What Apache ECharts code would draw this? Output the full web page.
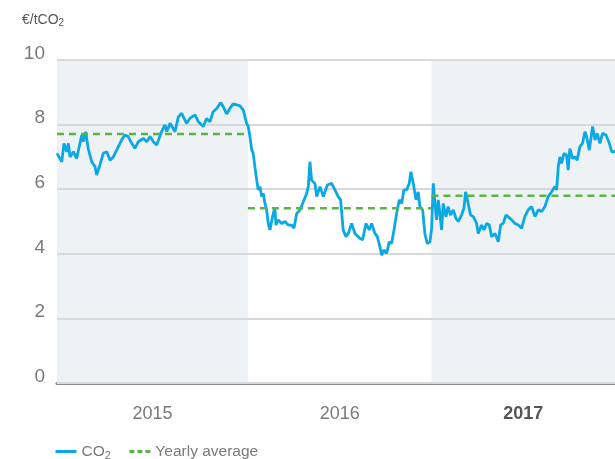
<!DOCTYPE html>
<html>
<head>
<meta charset="utf-8">
<script src="https://cdn.jsdelivr.net/npm/echarts@6/dist/echarts.min.js"></script>
<style>
  html, body { margin: 0; padding: 0; background: #fff; }
  #chart { width: 615px; height: 459px; }
</style>
</head>
<body>
<div id="chart"></div>
<script>
// CO2 price, decimal year / EUR per tonne
var co2Time = [
  2014.960, 2014.986, 2014.998, 2015.013, 2015.022, 2015.031, 2015.049, 2015.067, 2015.095, 2015.103,
  2015.116, 2015.130, 2015.149, 2015.167, 2015.176, 2015.194, 2015.212, 2015.231, 2015.249, 2015.267,
  2015.285, 2015.312, 2015.330, 2015.348, 2015.367, 2015.385, 2015.403, 2015.430, 2015.449, 2015.467,
  2015.485, 2015.503, 2015.530, 2015.548, 2015.558, 2015.576, 2015.603, 2015.621, 2015.639, 2015.666,
  2015.684, 2015.712, 2015.730, 2015.757, 2015.775, 2015.793, 2015.811, 2015.830, 2015.852, 2015.866,
  2015.884, 2015.902, 2015.920, 2015.939, 2015.957, 2015.975, 2015.984, 2015.993, 2016.002, 2016.011,
  2016.021, 2016.029, 2016.038, 2016.048, 2016.056, 2016.066, 2016.075, 2016.084, 2016.093, 2016.102,
  2016.111, 2016.120, 2016.129, 2016.138, 2016.147, 2016.153, 2016.165, 2016.184, 2016.202, 2016.220,
  2016.238, 2016.251, 2016.266, 2016.284, 2016.302, 2016.320, 2016.329, 2016.338, 2016.347, 2016.365,
  2016.375, 2016.393, 2016.411, 2016.433, 2016.456, 2016.474, 2016.492, 2016.505, 2016.519, 2016.534,
  2016.547, 2016.565, 2016.583, 2016.610, 2016.625, 2016.643, 2016.661, 2016.674, 2016.692, 2016.705,
  2016.719, 2016.729, 2016.741, 2016.756, 2016.770, 2016.783, 2016.796, 2016.810, 2016.825, 2016.838,
  2016.850, 2016.865, 2016.879, 2016.888, 2016.901, 2016.916, 2016.928, 2016.937, 2016.952, 2016.964,
  2016.977, 2016.992, 2017.001, 2017.010, 2017.019, 2017.028, 2017.037, 2017.046, 2017.055, 2017.064,
  2017.079, 2017.091, 2017.104, 2017.119, 2017.133, 2017.146, 2017.164, 2017.177, 2017.186, 2017.200,
  2017.213, 2017.228, 2017.246, 2017.255, 2017.273, 2017.286, 2017.301, 2017.315, 2017.328, 2017.346,
  2017.364, 2017.377, 2017.391, 2017.406, 2017.418, 2017.437, 2017.455, 2017.473, 2017.491, 2017.509,
  2017.527, 2017.546, 2017.564, 2017.582, 2017.600, 2017.618, 2017.636, 2017.655, 2017.673, 2017.682,
  2017.691, 2017.700, 2017.709, 2017.722, 2017.736, 2017.745, 2017.754, 2017.769, 2017.782, 2017.794,
  2017.809, 2017.823, 2017.836, 2017.845, 2017.860, 2017.878, 2017.891, 2017.903, 2017.918, 2017.932,
  2017.951, 2017.969, 2017.982, 2018.000
];
var co2Price = [
  7.11, 6.85, 7.42, 7.16, 7.42, 7.00, 7.16, 6.95, 7.68, 7.47,
  7.78, 7.26, 6.85, 6.70, 6.44, 6.75, 7.11, 7.16, 6.90, 7.00,
  7.21, 7.52, 7.68, 7.63, 7.42, 7.26, 7.47, 7.57, 7.47, 7.63,
  7.47, 7.37, 7.78, 7.99, 7.78, 8.04, 7.78, 8.24, 8.35, 8.04,
  8.19, 8.30, 8.09, 7.94, 8.19, 8.09, 8.40, 8.50, 8.68, 8.55,
  8.33, 8.50, 8.64, 8.61, 8.58, 8.45, 8.45, 8.04, 7.94, 7.63,
  7.21, 7.11, 6.70, 6.28, 5.98, 6.08, 5.77, 5.87, 5.56, 5.36,
  4.94, 4.74, 4.68, 5.25, 5.41, 4.89, 5.05, 4.94, 5.00, 4.89,
  4.89, 4.79, 5.25, 5.36, 5.61, 5.87, 6.08, 6.85, 6.28, 6.18,
  5.77, 6.08, 5.77, 6.13, 6.18, 5.98, 5.77, 5.67, 4.74, 4.53,
  4.63, 4.94, 4.63, 4.48, 4.43, 4.94, 4.74, 4.94, 4.63, 4.53,
  4.22, 3.96, 4.12, 4.01, 4.37, 4.32, 4.74, 5.25, 5.67, 5.56,
  5.98, 5.98, 6.18, 6.54, 6.18, 5.67, 5.92, 5.46, 5.36, 4.63,
  4.32, 4.37, 4.79, 6.18, 5.56, 5.05, 5.67, 5.25, 4.74, 5.56,
  5.15, 5.46, 5.20, 5.36, 5.10, 5.00, 5.20, 5.41, 5.92, 5.56,
  5.20, 5.15, 4.94, 4.63, 4.89, 4.74, 4.94, 4.89, 4.53, 4.63,
  4.37, 4.89, 4.94, 5.20, 5.15, 5.05, 4.94, 4.89, 4.79, 5.15,
  5.36, 5.46, 5.15, 5.36, 5.31, 5.46, 5.77, 5.92, 6.08, 5.98,
  6.70, 7.00, 6.80, 7.11, 7.06, 6.59, 7.26, 6.95, 7.00, 6.90,
  7.32, 7.42, 7.78, 7.63, 7.21, 7.94, 7.52, 7.73, 7.42, 7.73,
  7.68, 7.42, 7.16, 7.16
];

var years = ['2015', '2016', '2017'];
var yearStart = [2014.96, 2016, 2017];
var yearEnd = [2016, 2017, 2018];
var yearlyAvg = [7.71, 5.41, 5.80];

var yTicks = [0, 2, 4, 6, 8, 10];

var blue = '#0aa8e4';
var green = '#5ab446';
var textGrey = '#7a7a7a';
var fontFamily = '"Helvetica Neue", "Liberation Sans", Arial, sans-serif';

var co2Data = co2Time.map(function (t, i) { return [t, co2Price[i]]; });

var series = [{
    name: 'CO2',
    type: 'line',
    data: co2Data,
    showSymbol: false,
    symbol: 'none',
    z: 3,
    lineStyle: { color: blue, width: 2.8 },
    itemStyle: { color: blue },
    markArea: {
        silent: true,
        itemStyle: { color: '#eef2f5' },
        data: [
            [{ xAxis: yearStart[0] }, { xAxis: yearEnd[0] }],
            [{ xAxis: yearStart[2] }, { xAxis: yearEnd[2] }]
        ]
    }
}];

// one dashed segment per year, all under the same legend entry
years.forEach(function (y, i) {
    series.push({
        name: 'Yearly average',
        type: 'line',
        data: [[yearStart[i], yearlyAvg[i]], [yearEnd[i], yearlyAvg[i]]],
        showSymbol: false,
        symbol: 'none',
        z: 4,
        lineStyle: { color: green, width: 2.5, type: [7, 5] },
        itemStyle: { color: green }
    });
});

var chart = echarts.init(document.getElementById('chart'));
chart.setOption({
    animation: false,
    title: {
        text: '€/tCO{sub|2}',
        left: 17,
        top: 7,
        textStyle: {
            fontSize: 14,
            fontWeight: 'normal',
            color: '#555',
            fontFamily: fontFamily,
            rich: {
                sub: { fontSize: 10, color: '#555', verticalAlign: 'bottom', padding: [6, 0, 0, 0], fontFamily: fontFamily }
            }
        }
    },
    legend: {
        left: 49,
        bottom: -7,
        itemWidth: 21,
        itemHeight: 10,
        itemGap: 17,
        data: [
            { name: 'CO2', lineStyle: { width: 3 } },
            { name: 'Yearly average', lineStyle: { width: 3, type: [5, 3] } }
        ],
        itemStyle: { opacity: 0 },
        formatter: function (name) {
            return name === 'CO2' ? 'CO{sub|2}' : name;
        },
        textStyle: {
            fontSize: 15.5,
            color: textGrey,
            fontFamily: fontFamily,
            rich: {
                sub: { fontSize: 11, color: textGrey, padding: [8, 0, 0, 0], fontFamily: fontFamily }
            }
        }
    },
    grid: {
        left: 57,
        right: 0,
        top: 60,
        bottom: 76,
        containLabel: false
    },
    xAxis: {
        type: 'value',
        min: yearStart[0],
        max: yearEnd[2],
        axisLine: { show: true, lineStyle: { color: '#8c8c8c', width: 3 } },
        axisTick: { show: false },
        splitLine: { show: false },
        axisLabel: {
            customValues: [2015.48, 2016.5, 2017.5],
            margin: 22,
            fontSize: 18,
            color: textGrey,
            fontFamily: fontFamily,
            formatter: function (v) {
                var label = years[Math.floor(v) - 2015];
                return label === '2017' ? '{b|' + label + '}' : label;
            },
            rich: {
                b: { fontSize: 18, fontWeight: 'bold', color: '#555', fontFamily: fontFamily }
            }
        }
    },
    yAxis: {
        type: 'value',
        min: yTicks[0],
        max: yTicks[yTicks.length - 1],
        interval: 2,
        z: 1.5,
        axisLine: { show: false },
        axisTick: { show: false },
        splitLine: { show: true, lineStyle: { color: '#d9d9d9', width: 2 } },
        axisLabel: {
            margin: 12,
            fontSize: 19,
            color: textGrey,
            fontFamily: fontFamily,
            verticalAlign: 'bottom',
            lineHeight: 13
        }
    },
    series: series
});
</script>
</body>
</html>
